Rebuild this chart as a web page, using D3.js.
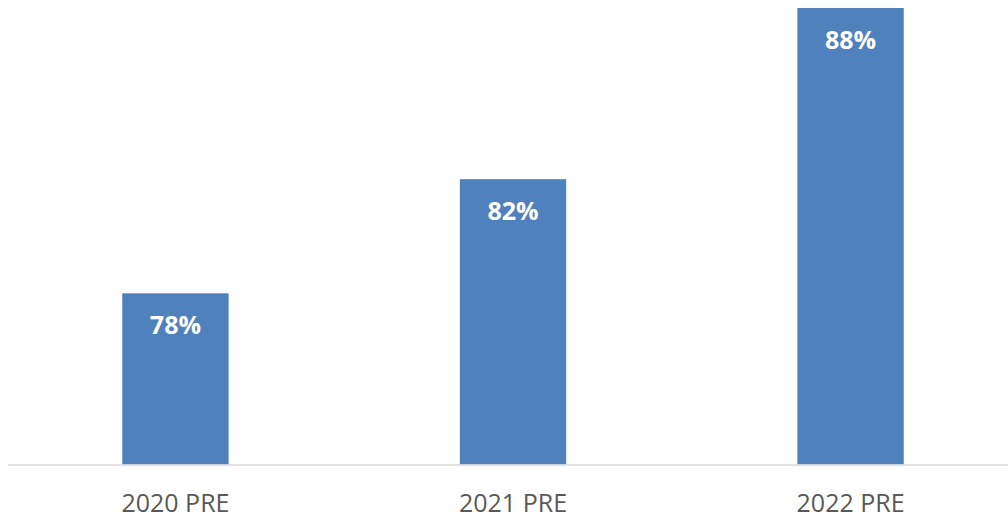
<!DOCTYPE html>
<html><head><meta charset="utf-8">
<script src="https://cdn.jsdelivr.net/npm/d3@7"></script>
<style>html,body{margin:0;padding:0;background:#fff;}svg{display:block;}</style>
</head><body>
<svg id="chart" width="1008" height="520"></svg>
<script>
const categories = ["2020 PRE", "2021 PRE", "2022 PRE"];
const values = [78, 82, 88];
const valueLabels = ["78%", "82%", "88%"];

const svg = d3.select("#chart");
const x = d3.scaleBand().domain(categories).range([7.5, 1018.5]).paddingInner(0.685).paddingOuter(0.34);
const y = d3.scaleLinear().domain([72, 88]).range([464.5, 8]);

svg.selectAll("rect.bar").data(values).enter().append("rect")
  .attr("class", "bar")
  .attr("x", (d, i) => x(categories[i]))
  .attr("width", x.bandwidth())
  .attr("y", d => y(d))
  .attr("height", d => y(72) - y(d))
  .attr("fill", "#4F81BD");

svg.append("line").attr("x1", 8).attr("x2", 1008).attr("y1", 465).attr("y2", 465)
  .attr("stroke", "#D9D9D9").attr("stroke-width", 1.5);

svg.selectAll("text.val").data(values).enter().append("text")
  .attr("class", "val")
  .attr("x", (d, i) => x(categories[i]) + x.bandwidth() / 2)
  .attr("y", d => y(d) + 41)
  .attr("text-anchor", "middle")
  .attr("font-family", "Open Sans")
  .attr("font-weight", "bold")
  .attr("font-size", 25)
  .attr("fill", "#FFFFFF")
  .text((d, i) => valueLabels[i]);

const xAxis = d3.axisBottom(x).tickSize(0).tickPadding(0);
const g = svg.append("g").attr("transform", "translate(0,465)").call(xAxis);
g.select(".domain").remove();
g.selectAll("text")
  .attr("dy", null)
  .attr("y", 47)
  .attr("font-family", "Open Sans")
  .attr("font-size", 25)
  .attr("fill", "#595959");
</script>
</body></html>
